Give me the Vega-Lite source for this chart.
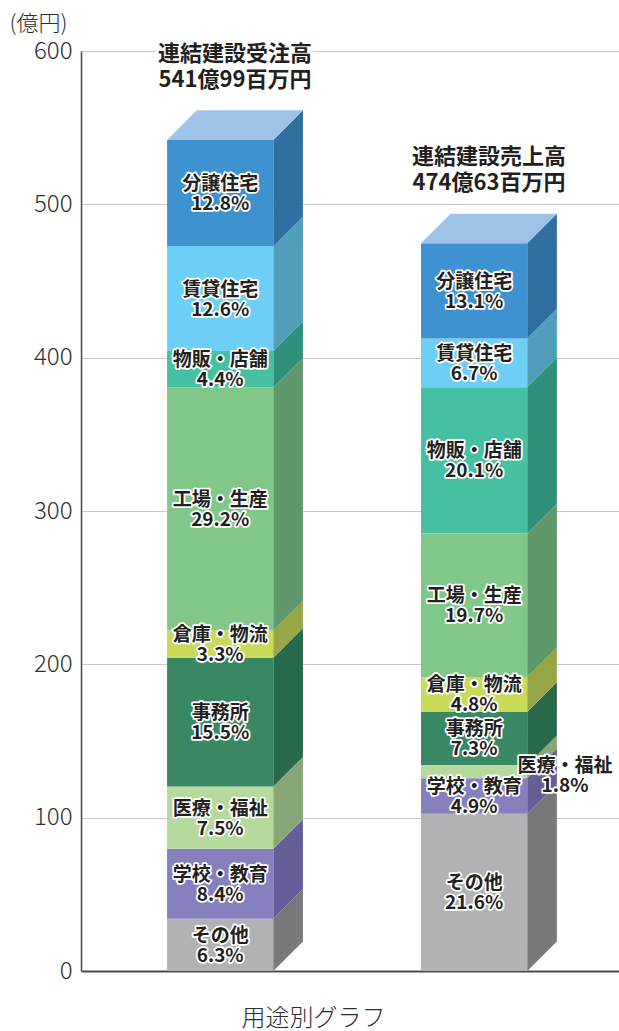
{
  "$schema": "https://vega.github.io/schema/vega-lite/v6.json",
  "width": 538,
  "height": 920,
  "autosize": {"type": "none"},
  "padding": {"left": 81, "top": 51, "right": 0, "bottom": 60},
  "background": "white",
  "config": {
    "view": {"stroke": null},
    "font": "Noto Sans CJK JP",
    "axisX": {"labels": false, "ticks": false, "grid": false, "domain": true,
      "domainColor": "#4a4a4a", "domainWidth": 2, "titleX": 232, "titleY": 47, "titleAlign": "center",
      "titleBaseline": "middle", "titleFontSize": 24, "titleFontWeight": 300, "titleColor": "#2e2e2e",
      "titleFont": "Noto Sans CJK JP", "titlePadding": 0},
    "axisY": {"ticks": false, "labelPadding": 9,
      "labelFontSize": 24, "labelFontWeight": 300, "labelColor": "#2e2e2e", "labelFont": "Noto Sans CJK JP",
      "grid": true, "gridColor": "#c8c8c8", "gridWidth": 1.2, "domainColor": "#4a4a4a", "domainWidth": 1.5,
      "titleAngle": 0, "titleX": -72, "titleY": -28, "titleAlign": "left", "titleBaseline": "middle",
      "titleFontSize": 22, "titleFontWeight": 300, "titleColor": "#2e2e2e", "titleFont": "Noto Sans CJK JP"}
  },
  "data": {"values": [
    {"bar": "受注", "order": 1, "cat": "その他", "pct": 6.3, "value": 34.15},
    {"bar": "受注", "order": 2, "cat": "学校・教育", "pct": 8.4, "value": 45.53},
    {"bar": "受注", "order": 3, "cat": "医療・福祉", "pct": 7.5, "value": 40.65},
    {"bar": "受注", "order": 4, "cat": "事務所", "pct": 15.5, "value": 84.01},
    {"bar": "受注", "order": 5, "cat": "倉庫・物流", "pct": 3.3, "value": 17.89},
    {"bar": "受注", "order": 6, "cat": "工場・生産", "pct": 29.2, "value": 158.26},
    {"bar": "受注", "order": 7, "cat": "物販・店舗", "pct": 4.4, "value": 23.85},
    {"bar": "受注", "order": 8, "cat": "賃貸住宅", "pct": 12.6, "value": 68.29},
    {"bar": "受注", "order": 9, "cat": "分譲住宅", "pct": 12.8, "value": 69.36},
    {"bar": "売上", "order": 1, "cat": "その他", "pct": 21.6, "value": 102.52},
    {"bar": "売上", "order": 2, "cat": "学校・教育", "pct": 4.9, "value": 23.26},
    {"bar": "売上", "order": 3, "cat": "医療・福祉", "pct": 1.8, "value": 8.54},
    {"bar": "売上", "order": 4, "cat": "事務所", "pct": 7.3, "value": 34.65},
    {"bar": "売上", "order": 5, "cat": "倉庫・物流", "pct": 4.8, "value": 22.78},
    {"bar": "売上", "order": 6, "cat": "工場・生産", "pct": 19.7, "value": 93.5},
    {"bar": "売上", "order": 7, "cat": "物販・店舗", "pct": 20.1, "value": 95.4},
    {"bar": "売上", "order": 8, "cat": "賃貸住宅", "pct": 6.7, "value": 31.8},
    {"bar": "売上", "order": 9, "cat": "分譲住宅", "pct": 13.1, "value": 62.18}
  ]},
  "transform": [
    {"stack": "value", "groupby": ["bar"], "sort": [{"field": "order", "order": "ascending"}], "as": ["y0", "y1"]},
    {"calculate": "datum.bar === '受注' ? 16 : 63.2", "as": "xl"},
    {"calculate": "datum.xl + 19.75", "as": "xr"},
    {"calculate": "[0, 1]", "as": "k"},
    {"flatten": ["k"]},
    {"calculate": "datum.xr + datum.k * 5.5", "as": "sx"},
    {"calculate": "datum.y0 + datum.k * 19.3", "as": "sy0"},
    {"calculate": "datum.y1 + datum.k * 19.3", "as": "sy1"},
    {"calculate": "datum.xl + datum.k * 5.5", "as": "tx"},
    {"calculate": "datum.xr + datum.k * 5.5", "as": "tx2"},
    {"calculate": "[datum.cat, format(datum.pct, '.1f') + '%']", "as": "label"},
    {"calculate": "datum.bar === '売上' && datum.cat === '医療・福祉'", "as": "outside"},
    {"calculate": "datum.xl + 9.875 + (datum.outside ? 16.9 : 0)", "as": "lx"},
    {"calculate": "(datum.y0 + datum.y1) / 2 - (datum.outside ? 2.5 : 0)", "as": "ly"},
    {"calculate": "datum.xl + 12.625", "as": "tcx"},
    {"calculate": "datum.bar === '受注' ? ['連結建設受注高', '541億99百万円'] : ['連結建設売上高', '474億63百万円']", "as": "ttl"}
  ],
  "resolve": {"scale": {"color": "independent"}},
  "layer": [
    {
      "transform": [{"filter": "datum.k === 0"}],
      "mark": {"type": "rect"},
      "encoding": {
        "x": {"field": "xl", "type": "quantitative", "title": "用途別グラフ", "scale": {"domain": [0, 100], "nice": false, "zero": false}},
        "x2": {"field": "xr"},
        "y": {"field": "y0", "type": "quantitative", "title": "(億円)", "scale": {"domain": [0, 600], "nice": false},
          "axis": {"values": [0, 100, 200, 300, 400, 500, 600]}},
        "y2": {"field": "y1"},
        "color": {"field": "cat", "type": "nominal", "legend": null,
          "scale": {"domain": ["その他", "学校・教育", "医療・福祉", "事務所", "倉庫・物流", "工場・生産", "物販・店舗", "賃貸住宅", "分譲住宅"],
            "range": ["#b1b2b4", "#8680bf", "#b6da9e", "#3a8764", "#c9da5b", "#82c78a", "#46bfa2", "#6ecff6", "#3f92d0"]}}
      }
    },
    {
      "mark": {"type": "area", "orient": "vertical"},
      "encoding": {
        "x": {"field": "sx", "type": "quantitative", "title": "用途別グラフ"},
        "y": {"field": "sy0", "type": "quantitative", "stack": null, "title": "(億円)", "axis": {"values": [0, 100, 200, 300, 400, 500, 600]}},
        "y2": {"field": "sy1"},
        "detail": [{"field": "bar"}, {"field": "cat"}],
        "color": {"field": "cat", "type": "nominal", "legend": null,
          "scale": {"domain": ["その他", "学校・教育", "医療・福祉", "事務所", "倉庫・物流", "工場・生産", "物販・店舗", "賃貸住宅", "分譲住宅"],
            "range": ["#77797b", "#646097", "#88a676", "#28684b", "#96a545", "#5f986b", "#2f907a", "#509eba", "#2f70a1"]}}
      }
    },
    {
      "transform": [{"filter": "datum.order === 9"}],
      "mark": {"type": "area", "orient": "horizontal", "color": "#9fc3e6"},
      "encoding": {
        "y": {"field": "sy1", "type": "quantitative", "stack": null, "title": "(億円)", "axis": {"values": [0, 100, 200, 300, 400, 500, 600]}},
        "x": {"field": "tx", "type": "quantitative", "title": "用途別グラフ"},
        "x2": {"field": "tx2"},
        "detail": {"field": "bar"}
      }
    },
    {
      "transform": [{"filter": "datum.k === 0"}],
      "mark": {"type": "text", "align": "center", "baseline": "middle", "fontSize": 19, "fontWeight": "bold", "lineHeight": 20,
        "dy": -9, "stroke": "white", "strokeWidth": 3.5, "strokeJoin": "round", "fill": "white"},
      "encoding": {
        "x": {"field": "lx", "type": "quantitative", "title": "用途別グラフ"},
        "y": {"field": "ly", "type": "quantitative", "title": "(億円)", "axis": {"values": [0, 100, 200, 300, 400, 500, 600]}},
        "text": {"field": "label", "type": "nominal"}
      }
    },
    {
      "transform": [{"filter": "datum.k === 0"}],
      "mark": {"type": "text", "align": "center", "baseline": "middle", "fontSize": 19, "fontWeight": "bold", "lineHeight": 20,
        "dy": -9, "fill": "#231f20"},
      "encoding": {
        "x": {"field": "lx", "type": "quantitative", "title": "用途別グラフ"},
        "y": {"field": "ly", "type": "quantitative", "title": "(億円)", "axis": {"values": [0, 100, 200, 300, 400, 500, 600]}},
        "text": {"field": "label", "type": "nominal"}
      }
    },
    {
      "transform": [{"filter": "datum.k === 0 && datum.order === 9"}],
      "mark": {"type": "text", "align": "center", "baseline": "middle", "fontSize": 22, "fontWeight": "bold", "lineHeight": 26,
        "dy": -86, "stroke": "white", "strokeWidth": 7, "strokeJoin": "round", "fill": "white"},
      "encoding": {
        "x": {"field": "tcx", "type": "quantitative", "title": "用途別グラフ"},
        "y": {"field": "y1", "type": "quantitative", "title": "(億円)", "axis": {"values": [0, 100, 200, 300, 400, 500, 600]}},
        "text": {"field": "ttl", "type": "nominal"}
      }
    },
    {
      "transform": [{"filter": "datum.k === 0 && datum.order === 9"}],
      "mark": {"type": "text", "align": "center", "baseline": "middle", "fontSize": 22, "fontWeight": "bold", "lineHeight": 26,
        "dy": -86, "fill": "#231f20"},
      "encoding": {
        "x": {"field": "tcx", "type": "quantitative", "title": "用途別グラフ"},
        "y": {"field": "y1", "type": "quantitative", "title": "(億円)", "axis": {"values": [0, 100, 200, 300, 400, 500, 600]}},
        "text": {"field": "ttl", "type": "nominal"}
      }
    }
  ]
}
